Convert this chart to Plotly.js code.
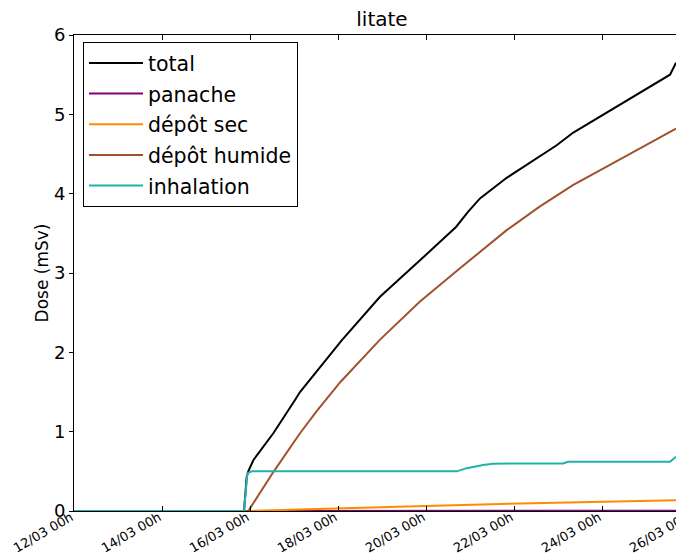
<!DOCTYPE html>
<html>
<head>
<meta charset="utf-8">
<script src="https://cdn.plot.ly/plotly-3.0.1.min.js"></script>
<style>
html,body{margin:0;padding:0;overflow:hidden;background:#fff;}
#chart{width:700px;height:555px;}
</style>
</head>
<body>
<div id="chart"></div>
<script>
// Data (Dose in mSv)
const totalT = ["2011-03-12 00:00","2011-03-15 20:44","2011-03-15 22:12","2011-03-15 23:04","2011-03-16 01:48","2011-03-16 12:43","2011-03-17 00:33","2011-03-17 03:16","2011-03-18 02:01","2011-03-18 22:55","2011-03-19 20:44","2011-03-20 16:22","2011-03-20 22:55","2011-03-21 05:27","2011-03-21 20:01","2011-03-22 14:11","2011-03-22 23:17","2011-03-23 08:21","2011-03-24 02:34","2011-03-24 20:44","2011-03-25 13:05","2011-03-25 16:22"];
const totalV = [0,0,0.43,0.50,0.64,0.98,1.40,1.50,2.15,2.70,3.16,3.58,3.77,3.94,4.20,4.47,4.61,4.77,5.02,5.27,5.50,5.65];

const panacheT = ["2011-03-12 00:00","2011-03-15 23:04","2011-03-25 16:22"];
const panacheV = [0,0,0.004];

const secT = ["2011-03-12 00:00","2011-03-15 23:04","2011-03-16 21:49","2011-03-17 23:17","2011-03-19 23:27","2011-03-22 03:16","2011-03-23 01:05","2011-03-25 16:22"];
const secV = [0,0,0.015,0.034,0.063,0.095,0.105,0.135];

const humideT = ["2011-03-12 00:00","2011-03-15 23:04","2011-03-16 13:00","2011-03-17 03:16","2011-03-17 12:23","2011-03-18 01:05","2011-03-18 22:55","2011-03-19 20:44","2011-03-20 18:33","2011-03-21 20:01","2011-03-22 14:11","2011-03-23 08:21","2011-03-24 02:34","2011-03-24 20:44","2011-03-25 16:22"];
const humideV = [0,0,0.50,0.98,1.26,1.62,2.16,2.64,3.06,3.54,3.84,4.11,4.34,4.57,4.82];

const inhalT = ["2011-03-12 00:00","2011-03-15 20:44","2011-03-15 22:32","2011-03-16 00:56","2011-03-20 16:45","2011-03-20 22:12","2011-03-21 07:05","2011-03-21 12:33","2011-03-23 02:44","2011-03-23 05:27","2011-03-25 13:05","2011-03-25 16:22"];
const inhalV = [0,0,0.475,0.50,0.50,0.54,0.58,0.597,0.60,0.62,0.62,0.685];

const names = ["total","panache","dépôt sec","dépôt humide","inhalation"];
const colors = ["#000000","#800080","#ff8c00","#a0522d","#20b2aa"];
const xs = [totalT,panacheT,secT,humideT,inhalT];
const ys = [totalV,panacheV,secV,humideV,inhalV];

const traces = names.map((n,i)=>({
  x: xs[i], y: ys[i], name: n, type: 'scatter', mode: 'lines',
  legendgroup: 'g'+i,
  line: {color: colors[i], width: 2}
}));

const font = "DejaVu Sans, sans-serif";
const layout = {
  width: 700, height: 555,
  margin: {l: 74, r: 10, t: 35, b: 44},
  paper_bgcolor: '#fff', plot_bgcolor: '#fff',
  font: {family: font, color: '#000'},
  title: {text: 'litate', font: {size: 20, family: font}, x: 0.5, xref: 'paper', y: 1, yref: 'container', yanchor: 'top', pad: {t: 12}},
  showlegend: true,
  legend: {
    x: 0.0146, y: 0.985, xanchor: 'left', yanchor: 'top',
    bgcolor: '#fff', bordercolor: '#000', borderwidth: 1,
    font: {size: 20.5, family: font},
    traceorder: 'grouped', tracegroupgap: 1, itemwidth: 54
  },
  xaxis: {
    type: 'date', range: ['2011-03-12 00:00','2011-03-26 00:00'],
    tick0: '2011-03-12', dtick: 172800000, tickformat: '%d/%m %Hh',
    tickangle: -30, tickfont: {size: 13, family: font},
    ticklabelstandoff: -7, ticklabelshift: -3,
    ticks: 'inside', ticklen: 5, tickcolor: '#000',
    showline: true, linecolor: '#000', linewidth: 1, mirror: 'allticks',
    showgrid: false, zeroline: false
  },
  yaxis: {
    range: [0,6], dtick: 1, tickfont: {size: 18, family: font},
    ticks: 'outside', ticklen: 4, tickcolor: '#000',
    showline: true, linecolor: '#000', linewidth: 1, mirror: true,
    showgrid: false, zeroline: false,
    title: {text: 'Dose (mSv)', font: {size: 17, family: font}, standoff: 0}
  }
};
Plotly.newPlot('chart', traces, layout, {displayModeBar: false, staticPlot: true});
</script>
</body>
</html>
